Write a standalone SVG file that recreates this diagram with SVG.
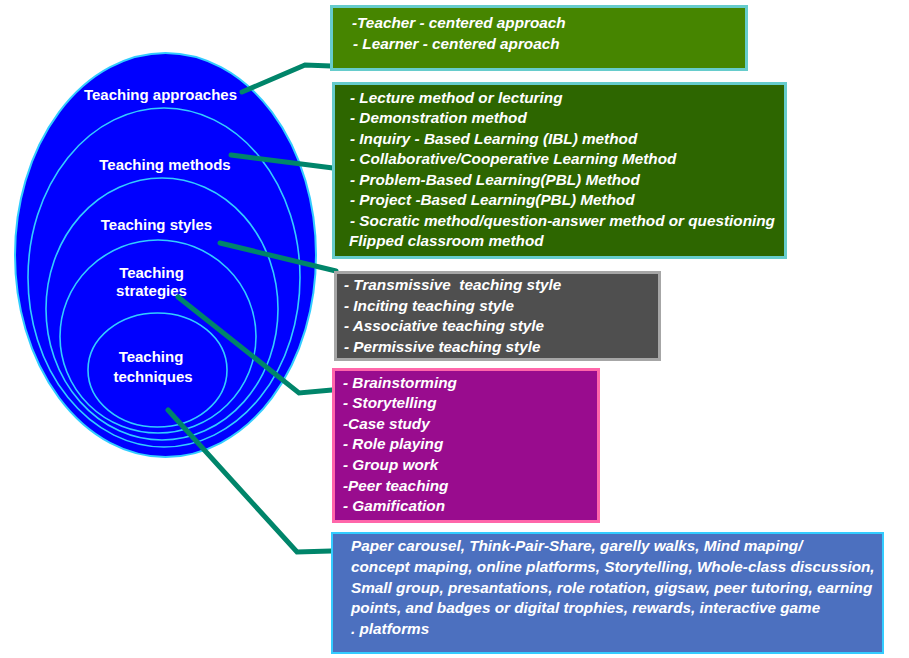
<svg xmlns="http://www.w3.org/2000/svg" width="909" height="658" viewBox="0 0 909 658">
<style>
.lbl{font-family:"Liberation Sans",Arial,sans-serif;font-weight:bold;font-size:15px;fill:#ffffff;text-anchor:middle}
.it{font-family:"Liberation Sans",Arial,sans-serif;font-weight:bold;font-style:italic;font-size:15.3px;fill:#ffffff;white-space:pre}
.ring{fill:none;stroke:#33CCFF;stroke-width:1.6}
.conn{fill:none;stroke:#00856A;stroke-width:5;stroke-linejoin:miter;stroke-linecap:round}
</style>
<rect width="909" height="658" fill="#ffffff"/>
<g id="ellipses">
<ellipse cx="165.5" cy="255" rx="150.5" ry="202" fill="#0000FF" stroke="#33CCFF" stroke-width="2"/>
<ellipse class="ring" cx="164" cy="277.5" rx="136" ry="169.5"/>
<ellipse class="ring" cx="162" cy="309" rx="116" ry="131"/>
<ellipse class="ring" cx="158" cy="336.5" rx="98" ry="96.5"/>
<ellipse class="ring" cx="157.5" cy="370" rx="69.5" ry="57"/>
</g>
<g id="labels">
<text class="lbl" x="160.5" y="100">Teaching approaches</text>
<text class="lbl" x="165" y="170">Teaching methods</text>
<text class="lbl" x="156.5" y="230">Teaching styles</text>
<text class="lbl" x="151.5" y="278">Teaching</text>
<text class="lbl" x="151.5" y="296">strategies</text>
<text class="lbl" x="151" y="362">Teaching</text>
<text class="lbl" x="153" y="382">techniques</text>
</g>
<g id="connectors">
<polyline class="conn" points="242,92 305,65 331,66"/>
<polyline class="conn" points="231,155 333,168"/>
<polyline class="conn" points="220,243 336,271"/>
<polyline class="conn" points="178,297 299,393 332,390"/>
<polyline class="conn" points="168,410 297,552 331,551"/>
</g>
<g id="box-approaches">
<rect x="331.5" y="6.5" width="415" height="63" fill="#468500" stroke="#66CCCC" stroke-width="3"/>
<text class="it" x="352" y="28">-Teacher - centered approach</text>
<text class="it" x="353" y="49">- Learner - centered aproach</text>
</g>
<g id="box-methods">
<rect x="333.5" y="83.5" width="452" height="174" fill="#2D6600" stroke="#66CCCC" stroke-width="3"/>
<text class="it" x="350" y="103">- Lecture method or lecturing</text>
<text class="it" x="350" y="123">- Demonstration method</text>
<text class="it" x="350" y="144">- Inquiry - Based Learning (IBL) method</text>
<text class="it" x="350" y="164">- Collaborative/Cooperative Learning Method</text>
<text class="it" x="350" y="185">- Problem-Based Learning(PBL) Method</text>
<text class="it" x="350" y="205">- Project -Based Learning(PBL) Method</text>
<text class="it" x="350" y="226">- Socratic method/question-answer method or questioning</text>
<text class="it" x="349" y="246">Flipped classroom method</text>
</g>
<g id="box-styles">
<rect x="335.5" y="272.5" width="324" height="87" fill="#4F4F4F" stroke="#A6A6A6" stroke-width="3"/>
<text class="it" x="344" y="290">- Transmissive  teaching style</text>
<text class="it" x="344" y="311">- Inciting teaching style</text>
<text class="it" x="344" y="331">- Associative teaching style</text>
<text class="it" x="344" y="352">- Permissive teaching style</text>
</g>
<g id="box-strategies">
<rect x="333.5" y="369.5" width="265" height="152" fill="#990C8E" stroke="#FF66AA" stroke-width="3"/>
<text class="it" x="343" y="388">- Brainstorming</text>
<text class="it" x="343" y="408">- Storytelling</text>
<text class="it" x="343" y="429">-Case study</text>
<text class="it" x="343" y="449">- Role playing</text>
<text class="it" x="343" y="470">- Group work</text>
<text class="it" x="343" y="491">-Peer teaching</text>
<text class="it" x="343" y="511">- Gamification</text>
</g>
<g id="box-techniques">
<rect x="332" y="533" width="551" height="120" fill="#4C70BF" stroke="#33CCFF" stroke-width="2"/>
<text class="it" x="351" y="551">Paper carousel, Think-Pair-Share, garelly walks, Mind maping/</text>
<text class="it" x="351" y="572">concept maping, online platforms, Storytelling, Whole-class discussion,</text>
<text class="it" x="351" y="593">Small group, presantations, role rotation, gigsaw, peer tutoring, earning</text>
<text class="it" x="351" y="613">points, and badges or digital trophies, rewards, interactive game</text>
<text class="it" x="351" y="634">. platforms</text>
</g>
</svg>
